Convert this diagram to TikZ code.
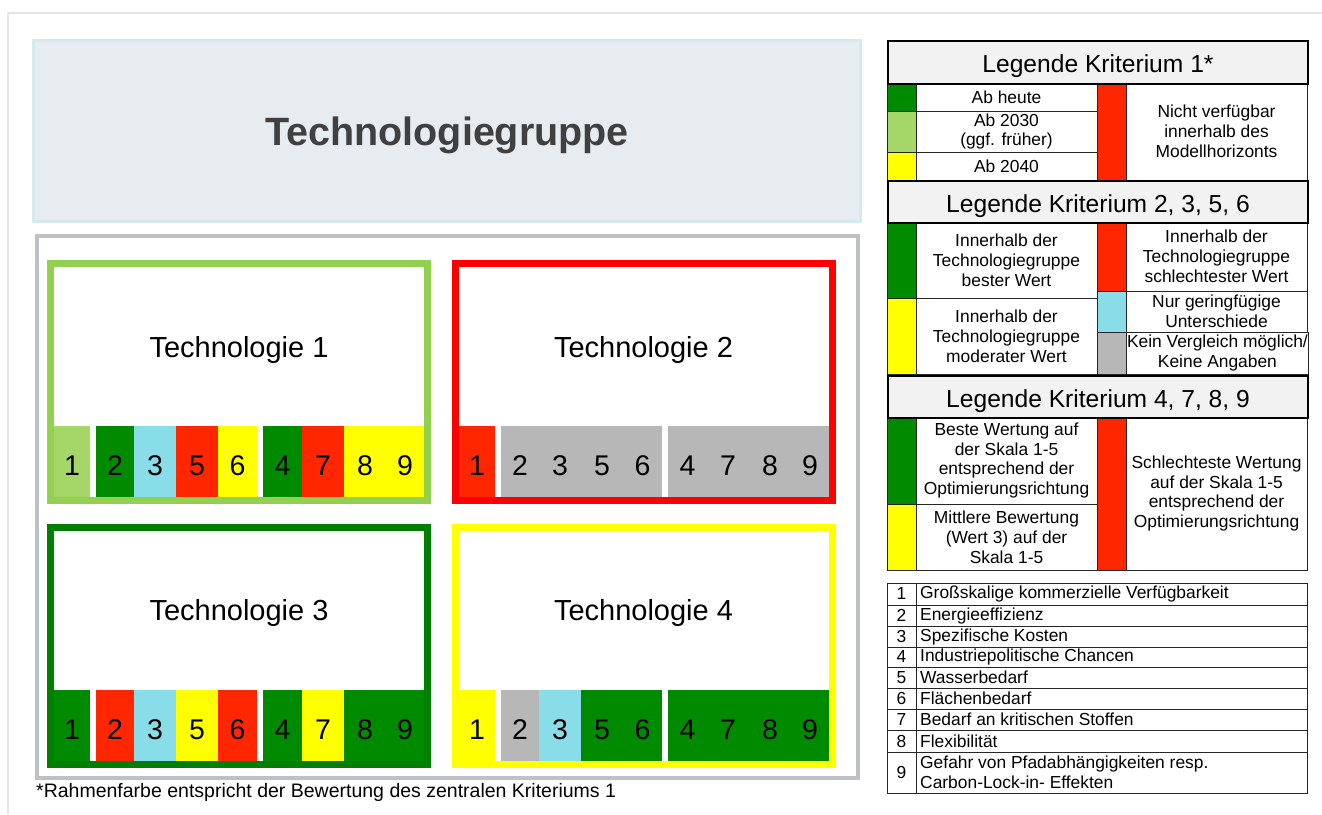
\documentclass[tikz,border=0pt]{standalone}
\usepackage{fontspec}
\setmainfont{Liberation Sans}
\usetikzlibrary{positioning}

\definecolor{dgreen}{HTML}{008A00}
\definecolor{lgreen}{HTML}{A5D668}
\definecolor{cyanish}{HTML}{88DDE8}
\definecolor{critred}{HTML}{FF2600}
\definecolor{crityellow}{HTML}{FFFF00}
\definecolor{critgray}{HTML}{B7B7B7}
\definecolor{framegreen}{HTML}{92D050}
\definecolor{framedgreen}{HTML}{007F00}
\definecolor{framered}{HTML}{FF0000}
\definecolor{titlefill}{HTML}{E6ECEF}
\definecolor{titleline}{HTML}{D6E9EF}
\definecolor{groupline}{HTML}{BDC1C5}
\definecolor{pageline}{HTML}{E5E5E5}
\definecolor{headfill}{HTML}{F2F2F2}
\definecolor{titletext}{HTML}{404040}

\newcommand{\setpx}[2]{\fontsize{#1}{#2}\selectfont}

\tikzset{
  titlebox/.style={fill=titlefill, draw=titleline, line width=3, minimum width=827, minimum height=181, inner sep=0},
  titlelabel/.style={font=\bfseries\setpx{39.5}{44}, text=titletext},
  techframe/.style={fill=white, line width=7, minimum width=377, minimum height=237, inner sep=0},
  techlabel/.style={font=\setpx{29}{33}},
  cell/.style={anchor=north west, minimum height=71, inner sep=0, outer sep=0, text height=27, text depth=0,
    font=\setpx{28.5}{32}},
  leghead/.style={anchor=north west, draw=black, line width=2, fill=headfill, minimum width=420,
    inner sep=0, text height=20, text depth=0, font=\setpx{24.6}{28}},
  legbox/.style={anchor=north west, draw=black!85, line width=0.8, inner sep=1, outer sep=0},
  legswatch/.style={legbox, minimum width=29},
  legtext/.style={legbox, minimum width=181, align=center, font=\setpx{17.4}{19.8}},
  critnum/.style={legbox, minimum width=29, inner ysep=0, font=\setpx{17.4}{19.8}},
  critrow/.style={legbox, minimum width=391},
  critlabel/.style={anchor=west, align=left, inner xsep=4, inner ysep=0, font=\setpx{17.4}{19.8}}
}

\begin{document}
\begin{tikzpicture}[x=1pt, y=-1pt]
  \useasboundingbox (0,0) rectangle (1322,814);
  \draw[pageline, line width=2] (8,814) |- (1322,13);

  % Gruppe und Technologien
  \node[titlebox] (group) at (447,131) {};
  \node[titlelabel] (grouplabel) at ([yshift=-4pt]group.center) {Technologiegruppe};
  \node[draw=groupline, line width=4, minimum width=821, minimum height=542, inner sep=0] (groupframe) at (447.5,507) {};

  \node[techframe, draw=framegreen] (tech1) at (239,382) {};
  \node[techframe, draw=framered] (tech2) at (643.5,382) {};
  \node[techframe, draw=framedgreen] (tech3) at (239,646) {};
  \node[techframe, draw=crityellow] (tech4) at (643.5,646) {};

  \node[techlabel] (t1name) at ([yshift=32pt]tech1.center) {Technologie 1};
  \node[techlabel] (t2name) at ([yshift=32pt]tech2.center) {Technologie 2};
  \node[techlabel] (t3name) at ([yshift=33pt]tech3.center) {Technologie 3};
  \node[techlabel] (t4name) at ([yshift=33pt]tech4.center) {Technologie 4};

  % Bewertungsleisten: Kriterium / Anfang / Ende / Farbe
  \begin{scope}[shift={(54,426)}]
    \foreach \lab/\a/\b/\col in {1/0/36/lgreen, 2/42/80/dgreen, 3/80/122/cyanish, 5/122/164/critred,
        6/164/203/crityellow, 4/209/248/dgreen, 7/248/290/critred, 8/290/332/crityellow, 9/332/370/crityellow}
      \node[cell, fill=\col, minimum width=\b-\a] (t1c\lab) at (\a,0) {\lab};
  \end{scope}
  \begin{scope}[shift={(459,426)}]
    \foreach \lab/\a/\b/\col in {1/0/36/critred, 2/42/80/critgray, 3/80/122/critgray, 5/122/164/critgray,
        6/164/203/critgray, 4/209/248/critgray, 7/248/290/critgray, 8/290/332/critgray, 9/332/370/critgray}
      \node[cell, fill=\col, minimum width=\b-\a] (t2c\lab) at (\a,0) {\lab};
  \end{scope}
  \begin{scope}[shift={(54,690)}]
    \foreach \lab/\a/\b/\col in {1/0/36/dgreen, 2/42/80/critred, 3/80/122/cyanish, 5/122/164/crityellow,
        6/164/203/critred, 4/209/248/dgreen, 7/248/290/crityellow, 8/290/332/dgreen, 9/332/370/dgreen}
      \node[cell, fill=\col, minimum width=\b-\a] (t3c\lab) at (\a,0) {\lab};
  \end{scope}
  \begin{scope}[shift={(459,690)}]
    \foreach \lab/\a/\b/\col in {1/0/36/crityellow, 2/42/80/critgray, 3/80/122/cyanish, 5/122/164/dgreen,
        6/164/203/dgreen, 4/209/248/dgreen, 7/248/290/dgreen, 8/290/332/dgreen, 9/332/370/dgreen}
      \node[cell, fill=\col, minimum width=\b-\a] (t4c\lab) at (\a,0) {\lab};
  \end{scope}

  \node[anchor=west, inner sep=0, font=\setpx{19.5}{22}] (note) at (36,792)
    {*Rahmenfarbe entspricht der Bewertung des zentralen Kriteriums 1};

  % Legende Kriterium 1
  \node[legswatch, fill=dgreen, minimum height=28] (k1s1) at (887,83) {};
  \node[legtext, minimum height=28] (k1t1) at (916,83) {Ab heute};
  \node[legswatch, fill=lgreen, minimum height=41] (k1s2) at (887,111) {};
  \node[legtext, minimum height=41] (k1t2) at (916,111) {Ab 2030\\(ggf. früher)};
  \node[legswatch, fill=crityellow, minimum height=28] (k1s3) at (887,152) {};
  \node[legtext, minimum height=28] (k1t3) at (916,152) {Ab 2040};
  \node[legswatch, fill=critred, minimum height=97] (k1s4) at (1097,83) {};
  \node[legtext, minimum height=97] (k1t4) at (1126,83) {Nicht verfügbar\\innerhalb des\\Modellhorizonts};
  \node[leghead, minimum height=43] (k1head) at (887,40) {Legende Kriterium 1*};

  % Legende Kriterium 2, 3, 5, 6
  \node[legswatch, fill=dgreen, minimum height=76] (k2s1) at (887,222) {};
  \node[legtext, minimum height=76] (k2t1) at (916,222) {Innerhalb der\\Technologiegruppe\\bester Wert};
  \node[legswatch, fill=crityellow, minimum height=76] (k2s2) at (887,298) {};
  \node[legtext, minimum height=76] (k2t2) at (916,298) {Innerhalb der\\Technologiegruppe\\moderater Wert};
  \node[legswatch, fill=critred, minimum height=69] (k2s3) at (1097,222) {};
  \node[legtext, minimum height=69] (k2t3) at (1126,222) {Innerhalb der\\Technologiegruppe\\schlechtester Wert};
  \node[legswatch, fill=cyanish, minimum height=41] (k2s4) at (1097,291) {};
  \node[legtext, minimum height=41] (k2t4) at (1126,291) {Nur geringfügige\\Unterschiede};
  \node[legswatch, fill=critgray, minimum height=42] (k2s5) at (1097,332) {};
  \node[legtext, minimum height=42] (k2t5) at (1126,332) {Kein Vergleich möglich/\\Keine Angaben};
  \node[leghead, minimum height=42] (k2head) at (887,180) {Legende Kriterium 2, 3, 5, 6};

  % Legende Kriterium 4, 7, 8, 9
  \node[legswatch, fill=dgreen, minimum height=87] (k3s1) at (887,417) {};
  \node[legtext, minimum height=87] (k3t1) at (916,417) {Beste Wertung auf\\der Skala 1-5\\entsprechend der\\Optimierungsrichtung};
  \node[legswatch, fill=crityellow, minimum height=66] (k3s2) at (887,504) {};
  \node[legtext, minimum height=66] (k3t2) at (916,504) {Mittlere Bewertung\\(Wert 3) auf der\\Skala 1-5};
  \node[legswatch, fill=critred, minimum height=153] (k3s3) at (1097,417) {};
  \node[legtext, minimum height=153] (k3t3) at (1126,417) {Schlechteste Wertung\\auf der Skala 1-5\\entsprechend der\\Optimierungsrichtung};
  \node[leghead, minimum height=42] (k3head) at (887,375) {Legende Kriterium 4, 7, 8, 9};

  % Kriterienliste
  \foreach \n/\top/\h/\txt in {1/583/22/{Großskalige kommerzielle Verfügbarkeit}, 2/605/21/{Energieeffizienz},
      3/626/21/{Spezifische Kosten}, 4/647/20/{Industriepolitische Chancen}, 5/667/21/{Wasserbedarf},
      6/688/21/{Flächenbedarf}, 7/709/21/{Bedarf an kritischen Stoffen}, 8/730/22/{Flexibilität},
      9/752/41/{Gefahr von Pfadabhängigkeiten resp.\\Carbon-Lock-in- Effekten}} {
    \node[critnum, minimum height=\h] (num\n) at (887,\top) {\n};
    \node[critrow, minimum height=\h] (crit\n) at (916,\top) {};
    \node[critlabel] (critlab\n) at (crit\n.west) {\txt};
  }
\end{tikzpicture}
\end{document}
